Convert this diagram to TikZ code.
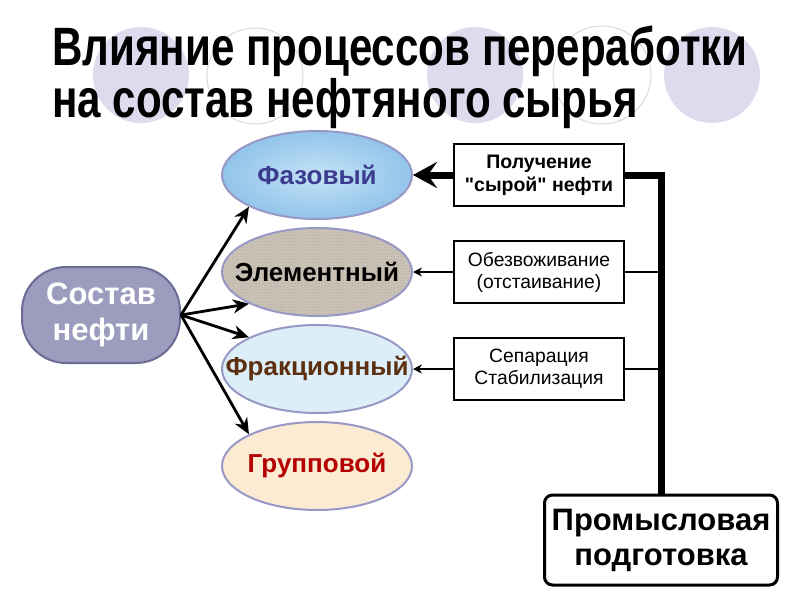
\documentclass[tikz,border=0pt]{standalone}
\usepackage{fontspec}
\setmainfont{Liberation Sans}[Ligatures=TeXOff]
\newfontfamily\narrowfont[FakeStretch=0.78]{Liberation Sans}
\usepackage{tikz}
\usetikzlibrary{positioning, shapes, arrows.meta, calc, patterns}

\definecolor{circfill}{HTML}{DCDCEE}
\definecolor{circline}{HTML}{D6D6E6}
\definecolor{ovalline}{HTML}{9898C6}
\definecolor{sostavfill}{HTML}{9C9CBE}
\definecolor{sostavline}{HTML}{6C6C96}
\definecolor{fazdark}{HTML}{92C4EA}
\definecolor{fazlight}{HTML}{C4E2F6}
\definecolor{elemfill}{HTML}{CCC4B8}
\definecolor{elemdots}{HTML}{B2A89A}
\definecolor{frakfill}{HTML}{DCEEF7}
\definecolor{grupfill}{HTML}{FBEBD2}
\definecolor{faztext}{HTML}{3C3C8E}
\definecolor{fraktext}{HTML}{5C3010}
\definecolor{gruptext}{HTML}{B40000}

\begin{document}
\begin{tikzpicture}[x=1pt, y=-1pt, node distance=7pt,
  oval/.style={ellipse, draw=ovalline, line width=2pt, minimum width=190pt,
    minimum height=88pt, inner xsep=-25pt, inner ysep=0pt,
    font=\fontsize{26}{30}\selectfont\bfseries},
  stage/.style={draw, line width=2pt, fill=white, minimum width=170pt,
    minimum height=62pt, align=center, inner sep=2pt, font=\fontsize{19.3}{22}\selectfont},
  into/.style={-{Stealth[length=16pt, width=14pt, inset=5pt]}, line width=2.8pt},
  feed/.style={-{Stealth[length=9pt, width=9pt, inset=3pt]}, line width=2pt},
  bigfeed/.style={-{Stealth[length=24pt, width=26pt, inset=9pt]}, line width=7pt}]
  \useasboundingbox (0,0) rectangle (800,600);

  \fill[circfill] (141,75) circle (48pt);
  \fill[circfill] (475,75) circle (48pt);
  \fill[circfill] (712,75) circle (48pt);
  \draw[circline, line width=1pt] (255,76) circle (48pt);
  \draw[circline, line width=1pt] (602,75) circle (49pt);

  \node[anchor=base west, align=left, inner sep=0pt,
    font=\narrowfont\bfseries\fontsize{54}{52}\selectfont] (title) at (52,117)
    {Влияние процессов переработки\\на состав нефтяного сырья};

  \node[oval, inner color=fazlight, outer color=fazdark, text=faztext] (faz) at (317,175) {Фазовый};
  \node[oval, preaction={fill=elemfill}, pattern=crosshatch dots, pattern color=elemdots] (elem) [below=of faz] {Элементный};
  \node[oval, fill=frakfill, text=fraktext] (frak) [below=of elem] {Фракционный};
  \node[oval, fill=grupfill, text=gruptext] (grup) [below=of frak] {Групповой};

  \node[draw=sostavline, fill=sostavfill, line width=2pt, rounded corners=44pt,
    minimum width=158pt, minimum height=96pt, align=center, text=white,
    font=\fontsize{31}{36}\selectfont\bfseries] (sostav) at (101,315) {Состав\\нефти};

  \node[stage, font=\fontsize{19.5}{23}\selectfont\bfseries] (poluch) [right=40pt of faz] {Получение\\"сырой" нефти};
  \node[stage] (obezv) [right=40pt of elem] {Обезвоживание\\(отстаивание)};
  \node[stage] (sep) [right=40pt of frak] {Сепарация\\Стабилизация};

  \node[draw, line width=3pt, rounded corners=8pt, fill=white, minimum width=233pt,
    minimum height=90pt, align=center, font=\fontsize{31}{35}\selectfont\bfseries]
    (promysl) at (661,540) {Промысловая\\подготовка};

  \draw[into] (sostav.east) -- (faz.205);
  \draw[into] (sostav.east) -- (elem.205);
  \draw[into] (sostav.east) -- (frak.155);
  \draw[into] (sostav.east) -- (grup.155);

  \draw[bigfeed] (poluch.west) -- (faz.east);
  \draw[feed] (obezv.west) -- (elem.east);
  \draw[feed] (sep.west) -- (frak.east);

  \draw[line width=7pt] (poluch.east) -| (promysl.north);
  \draw[line width=2pt] (obezv.east) -- (obezv.east -| promysl.north);
  \draw[line width=2pt] (sep.east) -- (sep.east -| promysl.north);
\end{tikzpicture}
\end{document}
